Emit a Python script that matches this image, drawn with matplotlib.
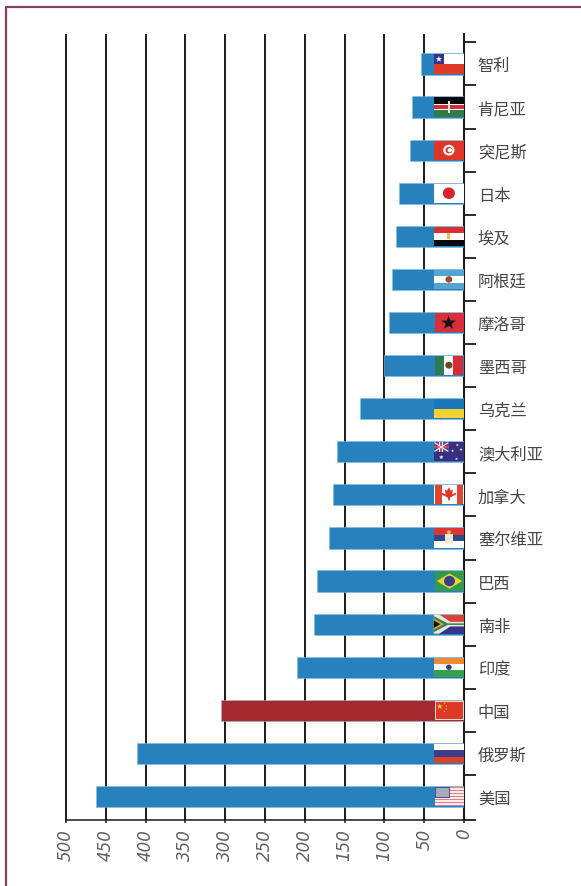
#!/usr/bin/env python3
"""Horizontal bars by country, reversed value axis, small flags at the bar base."""
import matplotlib
matplotlib.use("Agg")
import matplotlib.pyplot as plt
import numpy as np
from matplotlib.lines import Line2D
from matplotlib.patches import Ellipse, Polygon, Rectangle
from matplotlib.transforms import Affine2D

plt.rcParams["font.family"] = ["Noto Sans CJK SC", "DejaVu Sans"]

# bottom to top, same order as the picture
countries = ["美国", "俄罗斯", "中国", "印度", "南非", "巴西", "塞尔维亚", "加拿大", "澳大利亚",
             "乌克兰", "墨西哥", "摩洛哥", "阿根廷", "埃及", "日本", "突尼斯", "肯尼亚", "智利"]
values = [462, 411, 305, 210, 188, 185, 170, 165, 160, 131, 100, 94, 90, 85, 82, 68, 65, 54]
flags = ["us", "ru", "cn", "in", "za", "br", "rs", "ca", "au",
         "ua", "mx", "ma", "ar", "eg", "jp", "tn", "ke", "cl"]
xticks = [0, 50, 100, 150, 200, 250, 300, 350, 400, 450, 500]

BLUE = "#2681bd"
DARKRED = "#a5292e"
EDGE = "#86bbdf"
BORDER = "#8b3d66"
BLACK = "#1a1a1a"
FLAG_W = 38.0
FLAG_H = 0.445
PX_RATIO = 1.5  # a flag is 1.5 times wider than tall


def star(cx, cy, r, n=5, inner=0.4):
    ang = np.pi / 2 + np.arange(2 * n) * np.pi / n
    rad = np.where(np.arange(2 * n) % 2 == 0, r, r * inner)
    return np.c_[cx + rad * np.cos(ang) / PX_RATIO, cy + rad * np.sin(ang)]


class Flag:
    """Draws in a local unit square, u to the right and v up."""

    def __init__(self, ax, row):
        self.ax = ax
        self.tr = (Affine2D().scale(-FLAG_W, FLAG_H)
                   .translate(FLAG_W, row - FLAG_H / 2) + ax.transData)

    def box(self, u0, v0, u1, v1, c):
        self.ax.add_patch(Rectangle((u0, v0), u1 - u0, v1 - v0, fc=c, ec="none",
                                    transform=self.tr, zorder=5))

    def poly(self, pts, c):
        self.ax.add_patch(Polygon(pts, closed=True, fc=c, ec="none",
                                  transform=self.tr, zorder=6))

    def dot(self, u, v, r, c):
        self.ax.add_patch(Ellipse((u, v), 2 * r / PX_RATIO, 2 * r, fc=c, ec="none",
                                  transform=self.tr, zorder=7))

    def stripes(self, cols):
        n = len(cols)
        for i, c in enumerate(cols):
            self.box(0, 1 - (i + 1) / n, 1, 1 - i / n, c)


def draw_flag(ax, code, row):
    f = Flag(ax, row)
    if code == "us":
        f.box(0.03, 0, 1, 1, "#fbeaea")
        for i in range(0, 13, 2):
            f.box(0.03, i / 13, 1, (i + 1) / 13, "#e0808a")
        f.box(0.03, 0.42, 0.55, 1, "#4a4f86")
        f.box(0.06, 0.48, 0.52, 0.95, "#a8abc0")
    elif code == "ru":
        f.stripes(["#ffffff", "#3f3b8c", "#dc4027"])
    elif code == "cn":
        f.box(0.03, 0, 1, 1, "#f2d6d0")
        f.box(0.06, 0.06, 0.96, 0.94, "#dd3a26")
        f.poly(star(0.2, 0.7, 0.16), "#f5c842")
        for u, v in [(0.36, 0.86), (0.42, 0.72), (0.42, 0.56), (0.36, 0.44)]:
            f.poly(star(u, v, 0.055), "#f5c842")
    elif code == "in":
        f.stripes(["#ef8a32", "#ffffff", "#36a04f"])
        f.dot(0.5, 0.5, 0.14, "#3a3a8c")
    elif code == "za":
        f.box(0, 0.5, 1, 1, "#dc4137")
        f.box(0, 0, 1, 0.5, "#35348a")
        f.poly([(0, 1), (0.18, 1), (0.55, 0.62), (1, 0.62), (1, 0.38), (0.55, 0.38),
                (0.18, 0), (0, 0)], "#e8e8e0")
        f.poly([(0, 0.92), (0.46, 0.54), (1, 0.54), (1, 0.46), (0.46, 0.46), (0, 0.08)], "#2f8450")
        f.poly([(0, 0.8), (0.34, 0.5), (0, 0.2)], "#e0a22c")
        f.poly([(0, 0.7), (0.22, 0.5), (0, 0.3)], "#111111")
    elif code == "br":
        f.box(0.04, 0, 1, 1, "#34994e")
        f.poly([(0.1, 0.5), (0.52, 0.9), (0.94, 0.5), (0.52, 0.1)], "#e9d22f")
        f.dot(0.52, 0.5, 0.27, "#34408c")
    elif code == "rs":
        f.stripes(["#dc3535", "#2e4b86", "#ffffff"])
        f.box(0.38, 0.22, 0.62, 0.72, "#efe6d8")
        f.dot(0.5, 0.8, 0.1, "#e0b44c")
    elif code == "ca":
        f.box(0, 0, 1, 1, "#ffffff")
        f.box(0.03, 0, 0.26, 1, "#e2452f")
        f.box(0.76, 0, 0.98, 1, "#e2452f")
        f.poly([(0.5, 0.9), (0.56, 0.72), (0.63, 0.78), (0.61, 0.52), (0.72, 0.62),
                (0.74, 0.52), (0.54, 0.36), (0.52, 0.2), (0.48, 0.2), (0.46, 0.36),
                (0.26, 0.52), (0.28, 0.62), (0.39, 0.52), (0.37, 0.78), (0.44, 0.72)],
               "#e2352a")
    elif code == "au":
        f.box(0, 0, 1, 1, "#38307f")
        f.box(0, 0.5, 0.5, 1, "#4a4690")
        f.poly([(0, 0.96), (0.04, 1), (0.5, 0.54), (0.46, 0.5)], "#e9e3ee")
        f.poly([(0, 0.54), (0.04, 0.5), (0.5, 0.96), (0.46, 1)], "#e9e3ee")
        f.box(0, 0.68, 0.5, 0.82, "#f2f0f5")
        f.box(0.19, 0.5, 0.31, 1, "#f2f0f5")
        f.box(0, 0.71, 0.5, 0.79, "#d8435a")
        f.box(0.22, 0.5, 0.28, 1, "#d8435a")
        for u, v, r in [(0.25, 0.22, 0.12), (0.75, 0.13, 0.08), (0.62, 0.55, 0.08),
                        (0.78, 0.85, 0.08), (0.9, 0.62, 0.08)]:
            f.poly(star(u, v, r), "#f5f5fa")
    elif code == "ua":
        f.stripes(["#1b77bb", "#f0d232"])
    elif code == "mx":
        f.box(0.04, 0, 0.35, 1, "#2f7a54")
        f.box(0.35, 0, 0.65, 1, "#ffffff")
        f.box(0.65, 0, 0.97, 1, "#db2a33")
        f.dot(0.5, 0.52, 0.18, "#6a4a24")
    elif code == "ma":
        f.box(0.04, 0, 1, 1, "#d92f3a")
        f.poly(star(0.49, 0.48, 0.38), "#111111")
    elif code == "ar":
        f.stripes(["#54a6d2", "#ffffff", "#54a6d2"])
        f.dot(0.5, 0.5, 0.17, "#a0492c")
    elif code == "eg":
        f.stripes(["#dc3030", "#ffffff", "#0a0a0a"])
        f.box(0.45, 0.34, 0.55, 0.66, "#f4bb4a")
    elif code == "jp":
        f.box(0, 0, 1, 1, "#ffffff")
        f.dot(0.5, 0.5, 0.3, "#d8232f")
    elif code == "tn":
        f.box(0, 0, 1, 1, "#e13527")
        f.dot(0.5, 0.5, 0.28, "#ffffff")
        f.dot(0.5, 0.5, 0.17, "#e13527")
        f.dot(0.53, 0.5, 0.11, "#ffffff")
    elif code == "ke":
        f.stripes(["#0a0a0a", "#d22f37", "#2f7c46"])
        f.box(0, 0.62, 1, 0.68, "#ffffff")
        f.box(0, 0.32, 1, 0.38, "#ffffff")
        f.box(0.47, 0.18, 0.53, 0.82, "#f2e8e0")
    elif code == "cl":
        f.box(0, 0.5, 1, 1, "#ffffff")
        f.box(0, 0, 1, 0.5, "#e03b28")
        f.box(0, 0.5, 0.34, 1, "#34348c")
        f.poly(star(0.17, 0.75, 0.17), "#f4f4f8")


fig = plt.figure(figsize=(5.81, 8.87), dpi=100)
ax = fig.add_axes([66 / 581, 1 - 821 / 887, (464 - 66) / 581, (821 - 35) / 887])

rows = np.arange(len(countries))
colors = [DARKRED if c == "中国" else BLUE for c in countries]
ax.barh(rows, values, height=0.49, color=colors, edgecolor=EDGE, linewidth=0.4, zorder=3)
for row, code in zip(rows, flags):
    draw_flag(ax, code, row)

ax.set_xlim(500, 0)
ax.set_ylim(-0.545, 17.695)

for name in ("left", "top"):
    ax.spines[name].set_visible(False)
ax.spines["right"].set_linewidth(1.4)
ax.spines["right"].set_color(BLACK)
ax.spines["bottom"].set_linewidth(1.1)
ax.spines["bottom"].set_color(BLACK)

ax.set_xticks(xticks)
ax.set_xticklabels([str(v) for v in xticks], rotation=90, ha="center", va="top",
                   family="DejaVu Sans", style="italic", fontsize=12, color="#5f5f5f")
ax.tick_params(axis="x", length=2.5, width=1.1, color=BLACK, pad=3)
ax.grid(axis="x", color=BLACK, linewidth=1.4, zorder=1)
ax.set_axisbelow(True)
for line in ax.get_xgridlines():
    line.set_clip_on(False)
    line.set_solid_capstyle("butt")

ax.yaxis.tick_right()
ax.set_yticks(rows)
ax.set_yticklabels(countries, fontsize=11.7, color="#444444")
ax.tick_params(axis="y", which="major", length=0, pad=10)
ax.set_yticks(np.r_[-0.545, rows[:-1] + 0.5, 17.5], minor=True)
ax.tick_params(axis="y", which="minor", length=8.6, width=1.3, color=BLACK)

# page frame, only the top and left edges are inside the crop
fig.add_artist(Line2D([6 / 581, 6 / 581, 1], [0, 1 - 8 / 887, 1 - 8 / 887],
                      color=BORDER, linewidth=1.6))

fig.savefig("out.png", dpi=100, facecolor="white")
plt.close(fig)
